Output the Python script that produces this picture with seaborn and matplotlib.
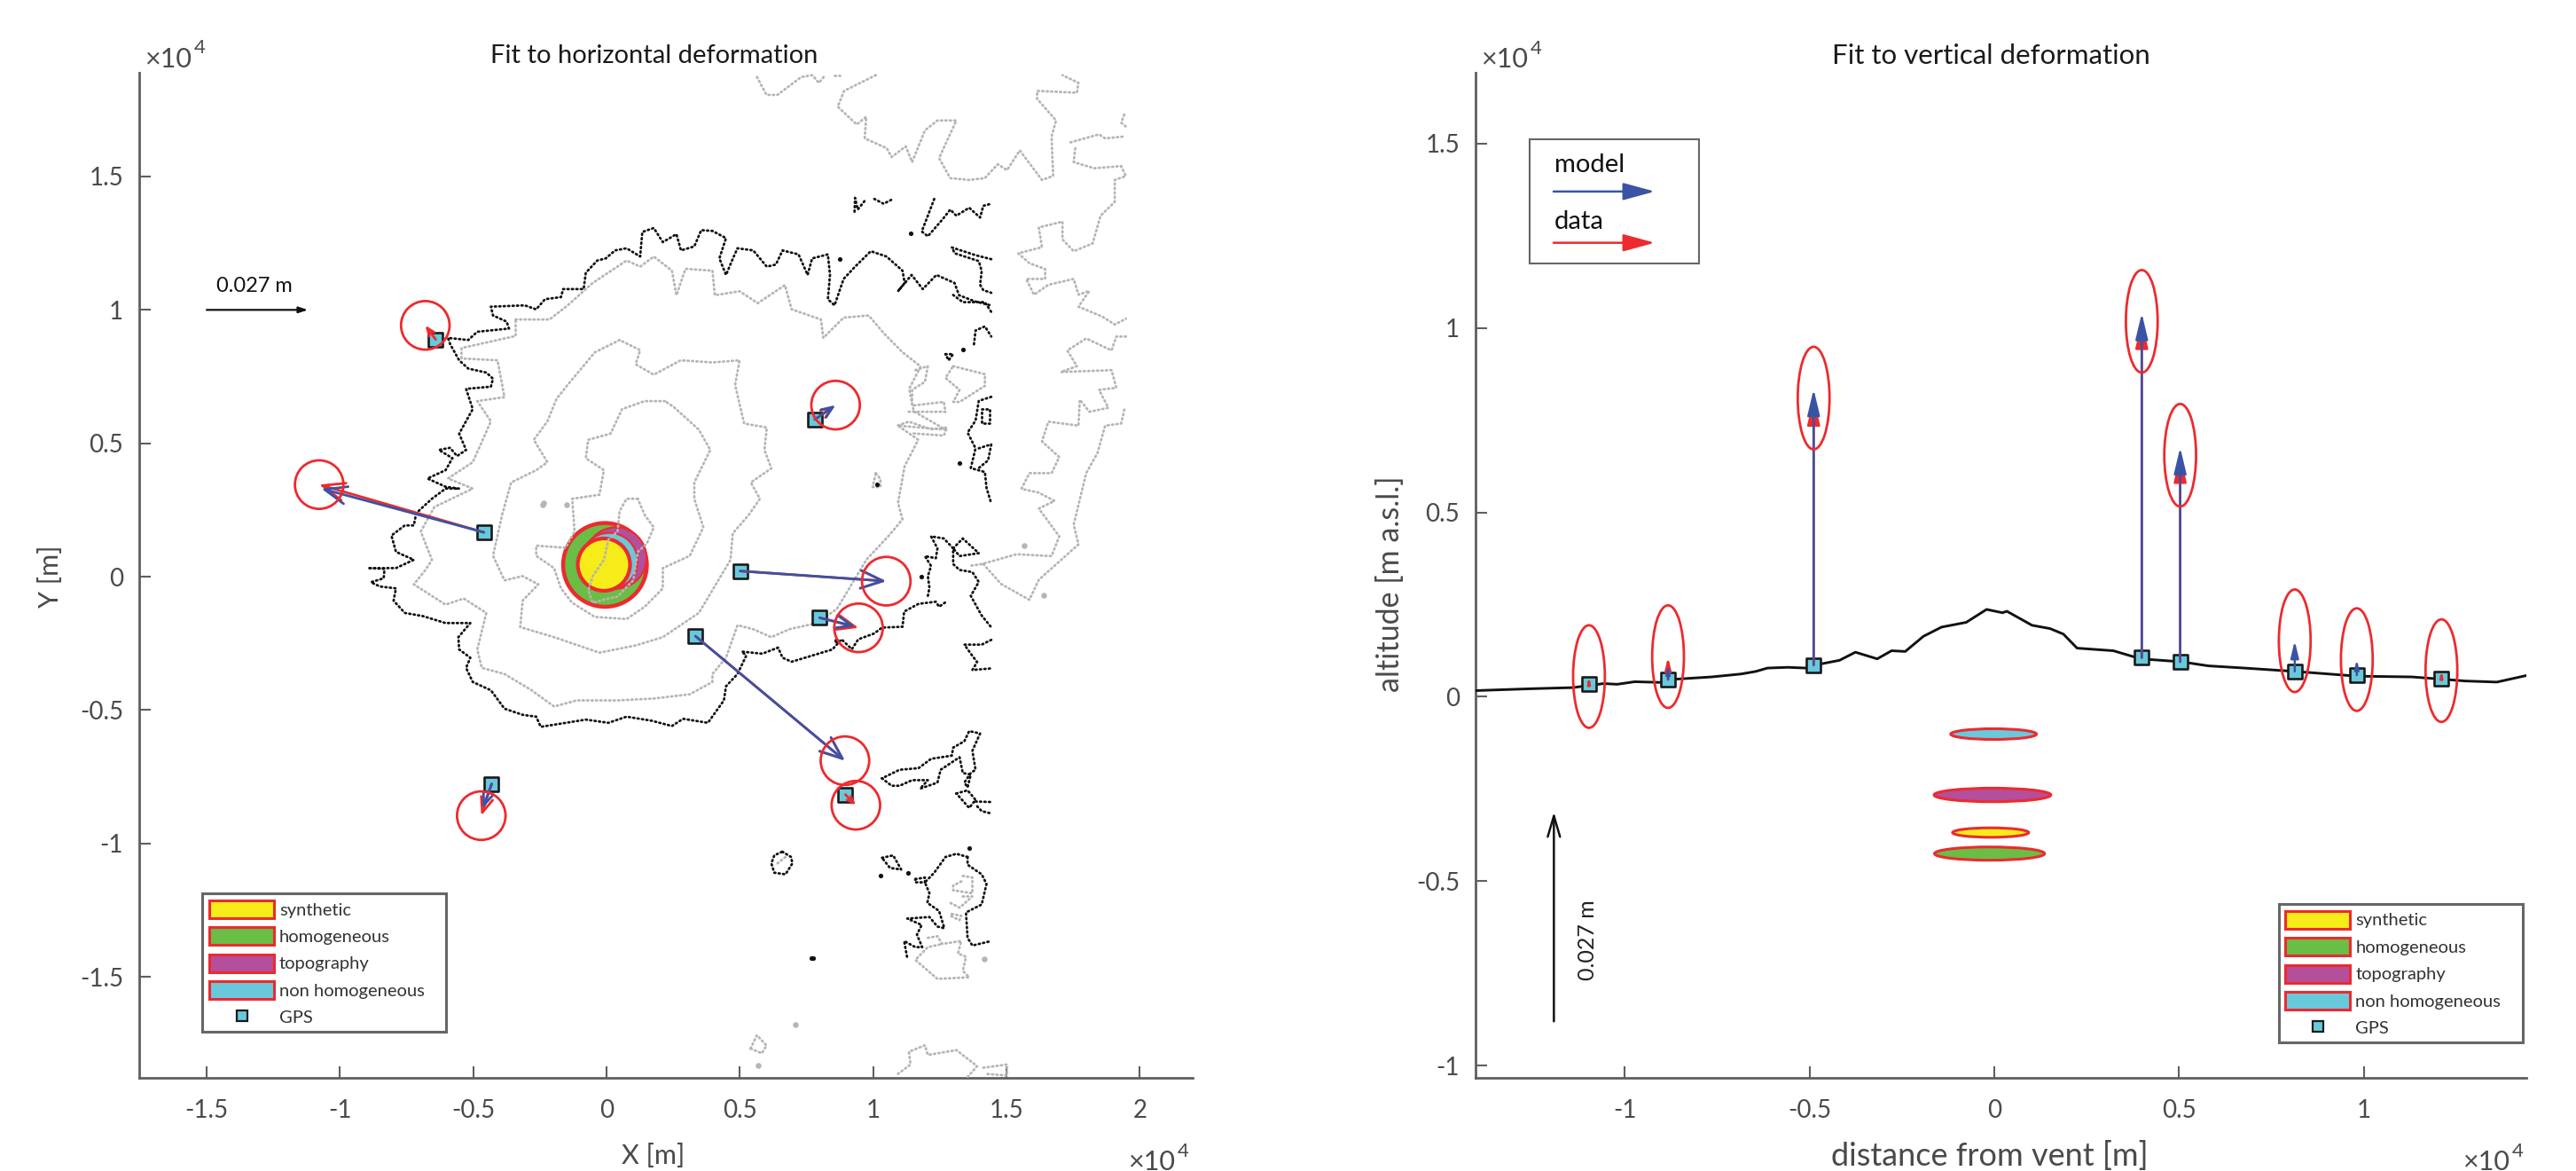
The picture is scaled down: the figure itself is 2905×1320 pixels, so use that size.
import numpy as np
import matplotlib
matplotlib.use("Agg")
import matplotlib.pyplot as plt
import seaborn as sns
from matplotlib.lines import Line2D
from matplotlib.patches import Ellipse, Patch, Rectangle

# all coordinates below are in units of 1e4 m

# ---- horizontal panel: coastline (black) ----
coast_main = [(-.889,.032),(-.833,.029),(-.836,-.006),(-.884,-.021),(-.850,-.037),(-.790,-.044),(-.799,-.090),
    (-.757,-.136),(-.689,-.148),(-.604,-.174),(-.511,-.174),(-.556,-.227),(-.553,-.273),(-.511,-.304),(-.527,-.342),
    (-.502,-.395),(-.434,-.426),(-.383,-.495),(-.315,-.518),(-.264,-.525),(-.247,-.563),(-.171,-.551),(-.078,-.536),
    (.007,-.548),(.075,-.525),(.168,-.540),(.245,-.560),(.287,-.533),(.380,-.548),(.440,-.464),(.448,-.411),
    (.491,-.365),(.524,-.296),(.507,-.281),(.584,-.289),(.643,-.266),(.660,-.304),(.694,-.319),(.771,-.296),
    (.847,-.273),(.881,-.235),(.920,-.272),(.944,-.235),(1.004,-.213),(1.033,-.191),(1.110,-.188),(1.116,-.131),
    (1.170,-.102),(1.235,-.094),(1.247,-.113),(1.274,-.094)]
coast_north = [(-.889,.032),(-.790,.032),(-.723,.063),(-.790,.093),(-.807,.154),(-.757,.192),(-.723,.192),(-.714,.238),
    (-.655,.292),(-.604,.330),(-.553,.330),(-.604,.337),(-.672,.368),(-.604,.399),(-.578,.444),(-.629,.475),
    (-.587,.483),(-.561,.452),(-.527,.475),(-.553,.536),(-.502,.628),(-.527,.704),(-.434,.712),(-.426,.742),
    (-.451,.765),(-.519,.780),(-.553,.811),(-.587,.872),(-.595,.895),(-.519,.887),(-.485,.918),(-.366,.930),
    (-.375,.956),(-.426,.979),(-.434,1.012),(-.307,1.017),(-.264,1.002),(-.231,1.040),(-.171,1.048),(-.163,1.078),
    (-.086,1.078),(-.078,1.139),(-.035,1.185),(-.003,1.193),(.032,1.223),(.075,1.231),(.126,1.200),(.134,1.292),
    (.177,1.307),(.211,1.254),(.262,1.284),(.279,1.223),(.329,1.238),(.355,1.299),(.397,1.296),(.448,1.269),
    (.423,1.193),(.448,1.131),(.474,1.193),(.491,1.231),(.550,1.223),(.601,1.162),(.635,1.170),(.660,1.223),
    (.720,1.208),(.754,1.131),(.771,1.193),(.830,1.208),(.838,1.131),(.830,1.040),(.855,1.017),(.889,1.116),
    (.932,1.162),(.991,1.220),(1.050,1.200),(1.110,1.147),(1.118,1.101),(1.093,1.070),(1.144,1.131),(1.186,1.078),
    (1.237,1.131),(1.305,1.101),(1.322,1.055),(1.381,1.032),(1.441,1.017)]
coast_east = [(1.205,-.072),(1.211,-.042),(1.205,.002),(1.217,.040),(1.194,.077),(1.235,.069),(1.241,.106),(1.217,.151),
    (1.265,.143),(1.300,.106),(1.300,.047),(1.324,.025),(1.372,.017),(1.396,-.020),(1.366,-.072),(1.407,-.146),(1.443,-.190)]
coast_east_loop = [(1.300,.106),(1.336,.143),(1.396,.088),(1.324,.077),(1.300,.106)]
coast_se = [(1.443,-.237),(1.407,-.255),(1.342,-.255),(1.372,-.297),(1.390,-.320),(1.372,-.350),(1.443,-.344)]
coast_ne = [
    [(.930,1.368),(.932,1.420),(.942,1.376),(.974,1.416)],
    [(1.004,1.416),(1.039,1.398),(1.075,1.416)],
    [(1.229,1.416),(1.205,1.353),(1.182,1.294),(1.205,1.276),(1.259,1.338),(1.289,1.376),(1.312,1.353),(1.360,1.383),
     (1.401,1.346),(1.413,1.390),(1.443,1.398)],
    [(1.443,1.190),(1.384,1.205),(1.295,1.234),(1.306,1.212),(1.396,1.183),(1.407,1.146),(1.401,1.094),(1.413,1.074),(1.443,1.064)],
    [(1.300,1.056),(1.336,1.029),(1.419,1.029),(1.443,.992)],
    [(1.378,.871),(1.384,.923),(1.419,.938),(1.443,.900)],
    [(1.271,.834),(1.300,.834),(1.283,.811),(1.271,.834)],
    [(1.443,.674),(1.396,.659),(1.384,.585),(1.354,.540),(1.384,.481),(1.366,.407),(1.419,.392),(1.425,.333),(1.443,.274)],
    [(1.407,.629),(1.437,.629),(1.437,.577),(1.407,.577),(1.407,.629)],
    [(1.396,.481),(1.443,.496),(1.431,.436),(1.396,.407)],
]
coast_south = [
    [(1.033,-.756),(1.069,-.784),(1.099,-.784),(1.146,-.763),(1.205,-.763),(1.176,-.795),(1.241,-.772),(1.253,-.724),
     (1.324,-.677),(1.336,-.736),(1.366,-.742),(1.354,-.790),(1.342,-.772),(1.366,-.736),(1.384,-.724),(1.372,-.653),
     (1.401,-.588),(1.360,-.579),(1.342,-.617),(1.300,-.641),(1.295,-.671),(1.217,-.683),(1.170,-.718),(1.099,-.724),(1.033,-.756)],
    [(1.312,-.813),(1.354,-.801),(1.384,-.837),(1.360,-.867),(1.312,-.813)],
    [(1.384,-.843),(1.443,-.845)],
    [(1.390,-.861),(1.407,-.879),(1.443,-.888)],
    [(.659,-1.031),(.692,-1.051),(.697,-1.075),(.671,-1.116),(.629,-1.110),(.618,-1.075),(.629,-1.045),(.659,-1.031)],
    [(1.033,-1.054),(1.075,-1.045),(1.105,-1.098),(1.063,-1.092),(1.033,-1.054)],
    [(1.354,-1.051),(1.312,-1.039),(1.271,-1.051),(1.229,-1.110),(1.194,-1.146),(1.211,-1.187),(1.203,-1.223),(1.247,-1.253),
     (1.267,-1.318),(1.241,-1.312),(1.211,-1.276),(1.128,-1.282),(1.182,-1.306),(1.164,-1.342),(1.184,-1.389),(1.158,-1.389),
     (1.116,-1.366),(1.128,-1.431)],
    [(1.354,-1.051),(1.354,-1.080),(1.407,-1.116),(1.425,-1.152),(1.407,-1.229),(1.348,-1.259),(1.354,-1.354),(1.372,-1.383),(1.443,-1.366)],
    [(1.158,-1.134),(1.194,-1.128),(1.194,-1.146),(1.158,-1.146),(1.158,-1.134)],
]
coast_dots_x = [.875,1.140,1.336,1.324,1.179,1.015,.861,1.027,1.132,.768,.775,1.360]
coast_dots_y = [1.190,1.286,.852,.425,.000,.347,-.238,-1.120,-1.110,-1.431,-1.431,-1.016]

# ---- horizontal panel: elevation contours (grey) ----
contour_summit = [(.117,.292),(.075,.292),(.049,.246),(.041,.169),(.007,.139),(-.010,.063),(-.052,.002),(-.069,-.052),
    (-.052,-.098),(.007,-.082),(.041,-.075),(.100,-.014),(.117,.093),(.151,.124),(.177,.185),(.143,.231),(.117,.292)]
contour_500 = [(.219,.658),(.143,.658),(.058,.628),(.015,.536),(-.069,.513),(-.078,.444),(-.010,.399),(-.027,.307),
    (-.129,.292),(-.120,.169),(-.154,.108),(-.264,.116),(-.264,.078),(-.197,.032),(-.171,-.044),(-.129,-.098),
    (-.044,-.151),(.075,-.159),(.143,-.113),(.211,-.044),(.211,.032),(.312,.078),(.363,.185),(.329,.292),(.329,.353),
    (.389,.475),(.346,.551),(.253,.635),(.219,.658)]
contour_300 = [(.049,.887),(-.044,.841),(-.146,.719),(-.188,.666),(-.222,.582),(-.273,.513),(-.222,.429),(-.264,.399),
    (-.358,.353),(-.392,.231),(-.426,.078),(-.383,-.014),(-.315,.002),(-.256,-.029),(-.315,-.090),(-.324,-.189),
    (-.197,-.227),(-.027,-.285),(.109,-.258),(.211,-.227),(.346,-.136),(.465,.063),(.473,.162),(.533,.231),(.575,.292),
    (.541,.353),(.618,.406),(.592,.475),(.601,.559),(.516,.574),(.482,.719),(.499,.811),(.397,.803),(.278,.811),
    (.177,.757),(.109,.796),(.126,.849),(.049,.887)]
contour_100 = [(-.341,.964),(-.214,.964),(-.146,1.017),(-.052,1.101),(.075,1.185),(.126,1.162),(.177,1.200),(.245,1.147),
    (.262,1.055),(.296,1.154),(.397,1.147),(.406,1.055),(.499,1.070),(.567,1.025),(.669,1.093),(.694,1.002),(.804,.964),
    (.813,.895),(.889,.971),(.983,.979),(1.042,.910),(1.110,.841),(1.178,.788),(1.135,.704),(1.152,.620),(1.271,.551),
    (1.093,.566),(1.169,.513),(1.118,.414),(1.093,.276),(1.110,.215),(1.059,.154),(.974,.063),(.864,-.121),(.788,-.174),
    (.686,-.197),(.618,-.227),(.550,-.197),(.491,-.182),(.448,-.304),(.397,-.365),(.397,-.395),(.312,-.441),(.177,-.457),
    (.041,-.464),(-.112,-.464),(-.197,-.487),(-.281,-.426),(-.383,-.365),(-.468,-.342),(-.485,-.273),(-.451,-.136),
    (-.536,-.082),(-.604,-.105),(-.723,-.029),(-.680,.024),(-.655,.063),(-.697,.169),(-.646,.261),(-.502,.330),
    (-.595,.368),(-.502,.429),(-.434,.582),(-.485,.658),(-.383,.673),(-.409,.811),(-.544,.818),(-.544,.857),(-.341,.902),(-.341,.964)]
contour_far = [
    [(.564,1.873),(.600,1.806),(.641,1.806),(.730,1.873),(.772,1.880),(.796,1.851),(.820,1.880)],
    [(.855,1.880),(.873,1.880)],
    [(1.010,1.880),(.891,1.821),(.867,1.762),(.938,1.695),(.974,1.724),(.968,1.643),(1.051,1.606),(1.069,1.573),(1.122,1.613),
     (1.146,1.554),(1.194,1.673),(1.241,1.710),(1.312,1.710),(1.247,1.569),(1.289,1.494),(1.360,1.487),(1.419,1.494),
     (1.467,1.546),(1.502,1.524),(1.550,1.598),(1.633,1.487),(1.675,1.502),(1.669,1.650),(1.686,1.710),(1.615,1.791),
     (1.615,1.821),(1.764,1.814),(1.770,1.851),(1.710,1.880)],
    [(1.942,1.732),(1.930,1.702),(1.948,1.687)],
    [(1.740,1.628),(1.847,1.658),(1.870,1.643),(1.942,1.650)],
    [(1.758,1.606),(1.752,1.554),(1.829,1.531),(1.930,1.539),(1.948,1.502),(1.906,1.487),(1.906,1.405),(1.853,1.353),
     (1.823,1.249),(1.752,1.220),(1.710,1.264),(1.710,1.331),(1.621,1.309),(1.633,1.235),(1.544,1.212),(1.586,1.175),
     (1.645,1.153),(1.645,1.116),(1.574,1.116),(1.603,1.057),(1.657,1.094),(1.752,1.116),(1.770,1.057),(1.811,1.071),
     (1.770,1.012),(1.859,.975),(1.906,.945),(1.948,.967)],
    [(1.948,.900),(1.912,.900),(1.894,.848),(1.799,.893),(1.728,.848),(1.764,.789),(1.704,.767),(1.894,.774),(1.912,.708),
     (1.847,.700),(1.882,.633),(1.811,.618),(1.775,.663),(1.770,.566),(1.657,.581),(1.633,.507),(1.698,.448),(1.669,.388),
     (1.586,.388),(1.556,.329),(1.621,.315),(1.680,.284),(1.621,.255),(1.698,.151),(1.669,.077),(1.538,.084),(1.407,.047),(1.360,.040)],
    [(1.942,.626),(1.930,.574),(1.870,.566),(1.841,.463),(1.799,.388),(1.752,.195),(1.770,.121),(1.704,.062),(1.621,-.012),
     (1.586,-.087),(1.479,-.027),(1.407,.054)],
    [(1.300,.789),(1.419,.759),(1.419,.715),(1.324,.655),(1.300,.655),(1.324,.700),(1.271,.745),(1.300,.789)],
    [(1.158,.774),(1.205,.789),(1.194,.730),(1.146,.700),(1.146,.641),(1.265,.655),(1.271,.618),(1.122,.618)],
    [(1.093,.567),(1.134,.581),(1.217,.552),(1.277,.559),(1.265,.529),(1.146,.537)],
    [(1.010,.388),(1.027,.366),(1.027,.336),(.998,.336),(1.010,.388)],
    [(1.336,-1.122),(1.372,-1.128),(1.372,-1.187),(1.300,-1.176),(1.300,-1.158),(1.336,-1.140)],
    [(1.336,-1.199),(1.372,-1.199),(1.324,-1.241),(1.289,-1.223)],
    [(1.295,-1.265),(1.330,-1.271),(1.324,-1.288),(1.289,-1.271),(1.295,-1.265)],
    [(1.205,-1.354),(1.241,-1.348),(1.259,-1.377),(1.330,-1.366),(1.318,-1.413),(1.348,-1.425),(1.336,-1.478),(1.360,-1.502),
     (1.241,-1.508),(1.158,-1.437),(1.205,-1.389),(1.259,-1.377)],
    [(.540,-1.769),(.564,-1.719),(.600,-1.758),(.582,-1.787),(.540,-1.769)],
    [(1.093,-1.864),(1.140,-1.829),(1.134,-1.781),(1.194,-1.757),(1.205,-1.793),(1.312,-1.775),(1.390,-1.835),(1.354,-1.876)],
    [(1.413,-1.841),(1.502,-1.829),(1.502,-1.870),(1.419,-1.864)],
    [(.641,-1.075),(.671,-1.051)],
]
contour_dots_x = [.707,.567,1.417,-.240,-.235,-.150,1.565,1.640]
contour_dots_y = [-1.678,-1.831,-1.434,.270,.275,.270,.115,-.070]

# ---- horizontal panel: GPS vectors ----
gps_x = [-.641,.781,-.460,.501,.799,.333,-.431,.896]
gps_y = [.889,.589,.166,.021,-.154,-.223,-.777,-.817]
data_tip_x = [-.680,.855,-1.078,1.049,.945,.894,-.470,.935]
data_tip_y = [.942,.640,.345,-.017,-.192,-.690,-.896,-.857]
model_tip_x = [-.641,.859,-1.070,1.049,.932,.894,-.465,.896]
model_tip_y = [.889,.643,.330,-.017,-.186,-.690,-.869,-.817]
circle_x = [-.680,.859,-1.078,1.049,.945,.894,-.470,.935]
circle_y = [.942,.643,.345,-.017,-.192,-.690,-.896,-.857]
circle_radius = .091

# ---- sources in map view: x, y, radius ----
src_green = (-.006,.044,.157)
src_purple = (.035,.070,.115)
src_cyan = (.010,.058,.106)
src_yellow = (-.010,.045,.098)

# ---- vertical panel ----
profile_x = [-1.401,-1.253,-1.141,-1.057,-1.021,-.973,-.901,-.861,-.765,-.685,-.645,-.614,-.559,-.510,-.486,-.419,-.376,
    -.317,-.278,-.241,-.192,-.143,-.076,-.021,.022,.034,.102,.151,.187,.224,.322,.396,.506,.579,.677,.812,.983,1.130,
    1.210,1.274,1.360,1.441]
profile_y = [.017,.022,.025,.036,.034,.041,.039,.048,.054,.062,.069,.078,.080,.078,.086,.099,.121,.103,.125,.123,.164,.189,
    .202,.237,.228,.232,.194,.185,.170,.132,.125,.103,.095,.084,.078,.069,.056,.054,.048,.043,.040,.058]
gps_dist = [-1.097,-.883,-.489,.399,.503,.813,.981,1.210]
gps_alt = [.034,.047,.086,.106,.095,.069,.059,.049]
vert_data_tip = [.054,.109,.810,1.018,.655,.069,.059,.071]
vert_model_tip = [.034,.088,.834,1.040,.676,.152,.102,.049]
vert_ell_y = [.055,.109,.810,1.018,.655,.152,.101,.071]
vert_ell_w = .086
vert_ell_h = .278

# x, y, half width, half height
sec_cyan = (-.002,-.101,.116,.0145)
sec_purple = (-.005,-.266,.158,.0184)
sec_yellow = (-.010,-.368,.103,.0128)
sec_green = (-.013,-.425,.149,.018)

x_ticks_left = [-1.5,-1,-.5,0,.5,1,1.5,2]
x_labels_left = ["-1.5","-1","-0.5","0","0.5","1","1.5","2"]
y_ticks_left = [-1.5,-1,-.5,0,.5,1,1.5]
y_labels_left = ["-1.5","-1","-0.5","0","0.5","1","1.5"]
x_ticks_right = [-1,-.5,0,.5,1]
x_labels_right = ["-1","-0.5","0","0.5","1"]
y_ticks_right = [-1,-.5,0,.5,1,1.5]
y_labels_right = ["-1","-0.5","0","0.5","1","1.5"]
legend_labels = ["synthetic","homogeneous","topography","non homogeneous"]

YELLOW = "#f5ec19"
GREEN = "#6abd45"
PURPLE = "#b44f9c"
CYAN = "#68c9dc"
RED = "#ed2a2e"
BLUE = "#3a53a4"
AXCOL = "#5f5f5f"
TXT = "#4a4a4a"
DOT_BLACK = "#111111"
DOT_GREY = "#b5b5b5"

sns.set_theme(style="white")
plt.rcParams["font.family"] = ["Lato", "DejaVu Sans"]


def draw_dotted(ax, pts, color):
    xs = [p[0] for p in pts]
    ys = [p[1] for p in pts]
    sns.lineplot(x=xs, y=ys, sort=False, estimator=None, ax=ax, color=color, lw=2.0,
                 linestyle=(0, (0.5, 1.3)), dash_capstyle="round", zorder=4)


def arrow(ax, x0, y0, x1, y1, color, lw=1.8, head=18, ratio=0.27, z=7, style="-|>"):
    trans = ax.transData
    p0 = trans.transform((x0, y0))
    p1 = trans.transform((x1, y1))
    length = np.hypot(*(p1 - p0)) * 72 / ax.figure.dpi
    if length < 1:
        return
    hl = min(head, 0.45 * length)
    ax.annotate("", xy=(x1, y1), xytext=(x0, y0), zorder=z,
                arrowprops=dict(arrowstyle=f"{style},head_length={hl/10:.2f},head_width={hl*ratio/10:.2f}",
                                mutation_scale=10, color=color, lw=lw, shrinkA=0, shrinkB=0))


def source_legend(ax, anchor, box):
    ax.add_patch(Rectangle((box[0], box[1]), box[2], box[3], transform=ax.transAxes, facecolor="white",
                           edgecolor="#666666", lw=2.2, zorder=9))
    handles = [Patch(facecolor=c, edgecolor=RED, linewidth=2.2, label=l)
               for c, l in zip([YELLOW, GREEN, PURPLE, CYAN], legend_labels)]
    handles.append(Line2D([], [], marker="s", ls="none", markersize=9, markerfacecolor=CYAN,
                          markeredgecolor="#1a1a1a", markeredgewidth=1.6, label="GPS"))
    leg = ax.legend(handles=handles, loc="lower left", bbox_to_anchor=anchor, bbox_transform=ax.transAxes,
                    frameon=False, fontsize=14.5, handlelength=3.63, handleheight=1.15, labelspacing=0.52,
                    borderpad=0, handletextpad=0.3, borderaxespad=0, labelcolor="#333333")
    leg.set_zorder(10)


def style_axes(ax, xt, xl, yt, yl):
    ax.set_xticks(xt)
    ax.set_xticklabels(xl)
    ax.set_yticks(yt)
    ax.set_yticklabels(yl)
    ax.tick_params(direction="in", length=9.5, width=1.5, color=AXCOL, labelsize=20,
                   labelcolor=TXT, left=True, bottom=True)
    ax.tick_params(axis="x", pad=17)
    ax.tick_params(axis="y", pad=13)
    for side in ["top", "right"]:
        ax.spines[side].set_visible(False)
    for side in ["left", "bottom"]:
        ax.spines[side].set_color(AXCOL)
        ax.spines[side].set_linewidth(2.0)


def power_label(ax, x, y):
    ax.text(x, y, "×10", fontsize=22, color=TXT, ha="left", va="center")
    ax.annotate("4", xy=(x, y), xytext=(40, 9), textcoords="offset points", fontsize=16,
                color=TXT, ha="left", va="center", annotation_clip=False)


def axis_labels(ax, xlabel, xsize, xpos, ylabel, ysize, ypos):
    ax.set_xlabel(xlabel, fontsize=xsize, color=TXT, va="center")
    ax.xaxis.set_label_coords(*xpos)
    ax.set_ylabel(ylabel, fontsize=ysize, color=TXT, va="center")
    ax.yaxis.set_label_coords(*ypos)


W, H = 2905, 1320
fig = plt.figure(figsize=(W / 100, H / 100), dpi=100, facecolor="white")
ax1 = fig.add_axes([157 / W, 1 - 1215 / H, (1344.6 - 157) / W, (1215 - 82) / H])
ax2 = fig.add_axes([1664 / W, 1 - 1215 / H, (2849.5 - 1664) / W, (1215 - 82) / H])

# left panel
ax1.set_xlim(-1.753, 2.197)
ax1.set_ylim(-1.879, 1.889)
style_axes(ax1, x_ticks_left, x_labels_left, y_ticks_left, y_labels_left)

for line in [contour_summit, contour_500, contour_300, contour_100] + contour_far:
    draw_dotted(ax1, line, DOT_GREY)
for line in [coast_main, coast_north, coast_east, coast_east_loop, coast_se] + coast_ne + coast_south:
    draw_dotted(ax1, line, DOT_BLACK)
sns.scatterplot(x=contour_dots_x, y=contour_dots_y, ax=ax1, color=DOT_GREY, s=22, linewidth=0, zorder=4)
sns.scatterplot(x=coast_dots_x, y=coast_dots_y, ax=ax1, color=DOT_BLACK, s=14, linewidth=0, zorder=4)

for (cx, cy, r), col, lw, z in [(src_green, GREEN, 3.2, 2), (src_purple, PURPLE, 1.5, 2.1),
                                (src_cyan, CYAN, 1.5, 2.2), (src_yellow, YELLOW, 3.0, 2.3)]:
    ax1.add_patch(Ellipse((cx, cy), 2 * r, 2 * r, facecolor=col, edgecolor=RED, lw=lw, zorder=z))

sns.scatterplot(x=gps_x, y=gps_y, ax=ax1, marker="s", s=125, color=CYAN, edgecolor="#1a1a1a", linewidth=1.9, zorder=5)
for i in range(len(gps_x)):
    arrow(ax1, gps_x[i], gps_y[i], data_tip_x[i], data_tip_y[i], RED, lw=2.0, ratio=0.4, style="->", z=6)
    arrow(ax1, gps_x[i], gps_y[i], model_tip_x[i], model_tip_y[i], BLUE, lw=2.0, ratio=0.4, style="->", z=7)
    ax1.add_patch(Ellipse((circle_x[i], circle_y[i]), 2 * circle_radius, 2 * circle_radius, fill=False,
                          edgecolor=RED, lw=2.0, zorder=8))

ax1.set_title("Fit to horizontal deformation", fontsize=21, color="#1a1a1a", x=0.4887, y=1.0168, pad=0, va="center")
axis_labels(ax1, "X [m]", 22, (0.488, -0.078), "Y [m]", 22, (-0.084, 0.4987))
power_label(ax1, -1.733, 1.939)
power_label(ax1, 1.955, -2.195)
ax1.text(-1.32, 1.09, "0.027 m", fontsize=17, color="#111111", ha="center", va="center")
ax1.annotate("", xy=(-1.12, 1.0), xytext=(-1.5, 1.0),
             arrowprops=dict(arrowstyle="-|>,head_length=0.6,head_width=0.2", mutation_scale=10, color="#111111",
                             lw=1.6, shrinkA=0, shrinkB=0))
source_legend(ax1, (0.0665, 0.0516), ((228 - 157) / 1187.6, (1215 - 1163) / 1133, 275 / 1187.6, 156 / 1133))

# right panel
ax2.set_xlim(-1.404, 1.441)
ax2.set_ylim(-1.033, 1.692)
style_axes(ax2, x_ticks_right, x_labels_right, y_ticks_right, y_labels_right)

sns.lineplot(x=profile_x, y=profile_y, sort=False, estimator=None, ax=ax2, color="#111111", lw=2.1, zorder=4)
sns.scatterplot(x=gps_dist, y=gps_alt, ax=ax2, marker="s", s=125, color=CYAN, edgecolor="#1a1a1a", linewidth=1.9, zorder=5)
for i in range(len(gps_dist)):
    arrow(ax2, gps_dist[i], gps_alt[i], gps_dist[i], vert_data_tip[i], RED, lw=2.0, ratio=0.24, z=6)
    arrow(ax2, gps_dist[i], gps_alt[i], gps_dist[i], vert_model_tip[i], BLUE, lw=1.8, ratio=0.24, z=7)
    ax2.add_patch(Ellipse((gps_dist[i], vert_ell_y[i]), vert_ell_w, vert_ell_h, fill=False, edgecolor=RED, lw=2.0, zorder=8))
for (cx, cy, hw, hh), col in [(sec_cyan, CYAN), (sec_purple, PURPLE), (sec_yellow, YELLOW), (sec_green, GREEN)]:
    ax2.add_patch(Ellipse((cx, cy), 2 * hw, 2 * hh, facecolor=col, edgecolor=RED, lw=2.2, zorder=3))

ax2.set_title("Fit to vertical deformation", fontsize=22.5, color="#1a1a1a", x=0.49, y=1.0168, pad=0, va="center")
axis_labels(ax2, "distance from vent [m]", 26, (0.489, -0.078), "altitude [m a.s.l.]", 24.5, (-0.081, 0.4916))
power_label(ax2, -1.389, 1.728)
power_label(ax2, 1.267, -1.262)

# model / data key
ax2.add_patch(Rectangle((-1.258, 1.175), 0.458, 0.336, facecolor="white", edgecolor="#666666", lw=1.5, zorder=9))
ax2.text(-1.190, 1.443, "model", fontsize=21, color="#111111", ha="left", va="center", zorder=10)
ax2.text(-1.190, 1.287, "data", fontsize=21, color="#111111", ha="left", va="center", zorder=10)
for key_y, key_col in [(1.370, BLUE), (1.231, RED)]:
    ax2.annotate("", xy=(-.919, key_y), xytext=(-1.193, key_y), zorder=10,
                 arrowprops=dict(arrowstyle="-|>,head_length=2.2,head_width=0.6", mutation_scale=10, color=key_col,
                                 lw=1.8, shrinkA=0, shrinkB=0))

# scale arrow
ax2.annotate("", xy=(-1.192, -.312), xytext=(-1.192, -.88),
             arrowprops=dict(arrowstyle="->,head_length=1.7,head_width=0.5", mutation_scale=10, color="#111111",
                             lw=1.8, shrinkA=0, shrinkB=0))
ax2.text(-1.10, -.66, "0.027 m", fontsize=18, rotation=90, color="#222222", ha="center", va="center")
source_legend(ax2, ((2577 - 1664) / 1185.5, (1215 - 1168.5) / 1133),
              ((2570 - 1664) / 1185.5, (1215 - 1175) / 1133, 275 / 1185.5, 156 / 1133))

fig.savefig("out.png", dpi=100, facecolor="white")
